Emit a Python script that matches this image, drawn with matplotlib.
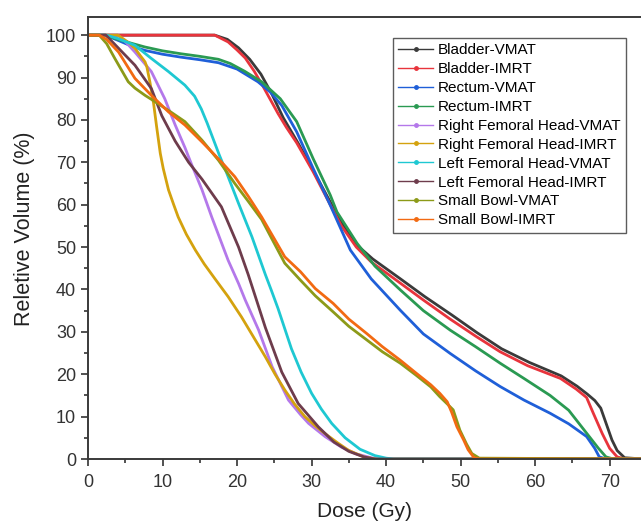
import matplotlib
matplotlib.use("Agg")
import matplotlib.pyplot as plt
from matplotlib.lines import Line2D
from matplotlib.ticker import MultipleLocator

plt.rcParams['font.family'] = ['Liberation Sans', 'DejaVu Sans']

labels = ["Bladder-VMAT", "Bladder-IMRT", "Rectum-VMAT", "Rectum-IMRT",
          "Right Femoral Head-VMAT", "Right Femoral Head-IMRT",
          "Left Femoral Head-VMAT", "Left Femoral Head-IMRT",
          "Small Bowl-VMAT", "Small Bowl-IMRT"]
colors = ["#3a3a3a", "#e8343c", "#1f5fd8", "#2a9a52", "#b478ea",
          "#d4a20e", "#1ec8d2", "#6e3c4c", "#8c9a18", "#f26a12"]

bladder_vmat_d = [0, 17, 18.7, 20.2, 21.7, 23.2, 24.7, 26.2, 28.2, 30.4, 32.7, 34.2, 36.2, 38.2, 42.0, 45.2, 48.8, 52.2, 55.5, 59.2, 63.5, 65.6, 67.0, 68.0, 68.8, 69.6, 70.3, 71.0, 72.0, 74.5]
bladder_vmat_v = [100, 100, 99, 97, 94.3, 90.8, 86, 80.5, 74.5, 67.5, 60, 55.2, 50.3, 47.2, 42.4, 38.3, 34, 29.8, 26, 22.8, 19.6, 17.2, 15.3, 13.8, 12, 8, 4.5, 2, 0.3, 0]

bladder_imrt_d = [0, 17, 18.8, 20.0, 21.1, 22.3, 23.4, 25.5, 26.6, 28.0, 30.2, 32.5, 34.0, 36.0, 38.0, 41.9, 45.0, 48.6, 52.0, 55.3, 59.0, 63.4, 65.5, 66.9, 67.8, 69.0, 70.0, 71.0, 72.0, 74.5]
bladder_imrt_v = [100, 100, 98.4, 96.5, 94.6, 91.5, 88.2, 81.5, 78.3, 74.6, 67.8, 60, 55, 50, 46.5, 41.5, 37.5, 33, 29, 25.3, 22, 19, 16.5, 14.5, 10.8, 6, 2.5, 0.5, 0, 0]

rectum_vmat_d = [0, 2.3, 4, 6, 7.65, 10, 12.5, 15, 17.5, 20, 22.8, 24.5, 26, 28, 30.2, 32.5, 35.2, 38, 41.9, 45, 48.6, 52, 55.3, 58.5, 62, 64.5, 66.9, 68, 68.6, 69.5, 74.5]
rectum_vmat_v = [100, 100, 98.8, 97.3, 96.4, 95.5, 94.8, 94.2, 93.5, 92, 89, 86.5, 83.4, 77.2, 68.6, 59.9, 49.3, 42.5, 35.1, 29.5, 24.9, 20.8, 17.1, 13.9, 10.8, 8.3, 5.3, 2.5, 0.5, 0, 0]

rectum_imrt_d = [0, 2.3, 4, 6, 7.65, 10, 12.5, 15, 17.5, 19.1, 21, 23.3, 25.8, 28, 30.2, 32.5, 33.4, 36.1, 38.5, 41.9, 45, 48.6, 52, 55.3, 58.5, 62, 64.5, 66.9, 68.5, 69.5, 70.5, 74.5]
rectum_imrt_v = [100, 100, 99, 98, 97.2, 96.3, 95.6, 95, 94.3, 93.3, 91.5, 89, 85, 79.6, 70.9, 62.3, 58.3, 50.9, 45.5, 39.9, 35, 30.4, 26.5, 22.6, 19, 15, 11.5, 6.1, 2.5, 0.5, 0, 0]

rfh_vmat_d = [0, 4, 5, 6.3, 7.5, 8.5, 10.3, 11.7, 13, 13.9, 15.3, 16.6, 18.8, 20.2, 21.1, 22.9, 24.7, 26.9, 28.5, 29.6, 31.8, 34, 36, 38, 39, 74.5]
rfh_vmat_v = [100, 100, 98.5, 96, 93.5, 91.4, 85, 78.8, 73.5, 69.5, 63.5, 57.1, 46.9, 41.4, 37.5, 30.4, 21.8, 13.9, 10.5, 8.4, 5.3, 2.8, 1.2, 0.3, 0, 0]

rfh_imrt_d = [0, 4, 5.5, 6.3, 7, 7.65, 7.9, 8.3, 8.8, 9.2, 9.7, 10.1, 10.8, 11.5, 12.1, 13.2, 14.4, 15.6, 17, 18.8, 20.6, 22.2, 23.8, 25.1, 26.4, 27.7, 29.1, 30.5, 31.8, 33.5, 35, 37, 38.5, 74.5]
rfh_imrt_v = [100, 100, 98.2, 96.9, 95.2, 93.7, 92.5, 89, 83.9, 78.5, 72.1, 68.5, 63.5, 60, 57.1, 53, 49.3, 46, 42.6, 38.3, 33.5, 28.8, 24.1, 20, 16.3, 13, 10, 7.8, 6, 3.8, 2, 0.5, 0, 0]

lfh_vmat_d = [0, 2.5, 4, 6.3, 8.5, 10.8, 13, 14.3, 15.2, 16.0, 16.8, 17.6, 18.6, 20.2, 22, 23.8, 24.6, 25.5, 27.3, 28.6, 30, 31.3, 32.7, 34.5, 36.5, 38.5, 40, 41, 74.5]
lfh_vmat_v = [100, 100, 99.2, 97.6, 94.5, 91.4, 88.2, 85.6, 82.6, 79.2, 75.5, 71.8, 67.5, 60.3, 52.4, 43.5, 39.8, 35.5, 26, 20.5, 15.5, 11.8, 8.4, 5, 2.3, 0.8, 0.2, 0, 0]

lfh_imrt_d = [0, 2.4, 4.1, 6.3, 8.5, 9.9, 11.7, 13.5, 15.3, 17.9, 20.2, 21.5, 22.7, 23.8, 26, 28.2, 30.9, 33, 35, 37, 38.5, 74.5]
lfh_imrt_v = [100, 100, 96.9, 92.9, 87.4, 81, 75, 70, 66, 59.5, 50, 43.5, 37, 31, 20.5, 13.1, 7.6, 4, 1.8, 0.5, 0, 0]

sb_vmat_d = [0, 1.5, 2.5, 3.6, 5.4, 6.3, 7.65, 9, 11, 13, 15.3, 17.5, 19.7, 21.5, 23.3, 26.4, 28.5, 30.5, 32.9, 35, 37.4, 39.5, 41.9, 44, 46, 47.2, 48.2, 49, 49.9, 50.8, 51.5, 52.5, 74.5]
sb_vmat_v = [100, 100, 98, 94.5, 89, 87.5, 85.8, 84.3, 82, 79.6, 75.2, 70.5, 65, 60.8, 56.5, 46.2, 42.2, 38.5, 34.7, 31.3, 28.1, 25.3, 22.6, 19.8, 17, 14.7, 13, 11.6, 6.8, 3.5, 1.3, 0.2, 0]

sb_imrt_d = [0, 1.5, 2.5, 4.1, 6.3, 8.5, 10.8, 13, 15.3, 17.9, 19.7, 21.5, 23.3, 26.4, 28.5, 30.5, 32.9, 35, 37.4, 39.5, 41.9, 44, 46, 47.2, 48.2, 48.8, 49.5, 50.4, 51, 51.8, 52.5, 74.5]
sb_imrt_v = [100, 100, 99, 96, 89.8, 85.8, 81.9, 78.8, 74.8, 70.1, 66.6, 62, 57.1, 47.7, 44.2, 40.2, 36.7, 33, 29.6, 26.5, 23.3, 20.3, 17.5, 15.5, 13.5, 11, 7.6, 4.5, 2.2, 0.3, 0, 0]

series = [(bladder_vmat_d, bladder_vmat_v), (bladder_imrt_d, bladder_imrt_v),
          (rectum_vmat_d, rectum_vmat_v), (rectum_imrt_d, rectum_imrt_v),
          (rfh_vmat_d, rfh_vmat_v), (rfh_imrt_d, rfh_imrt_v),
          (lfh_vmat_d, lfh_vmat_v), (lfh_imrt_d, lfh_imrt_v),
          (sb_vmat_d, sb_vmat_v), (sb_imrt_d, sb_imrt_v)]

fig = plt.figure(figsize=(6.41, 5.27), dpi=100)
ax = fig.add_axes([88/641, 68/527, 1 - 88/641, (459 - 16.5)/527])

for (d, v), c in zip(series, colors):
    ax.plot(d, v, color=c, lw=2.0, solid_capstyle='round', solid_joinstyle='round')

ax.set_xlim(0, 74.2)
ax.set_ylim(0, 104.4)
ax.xaxis.set_major_locator(MultipleLocator(10))
ax.xaxis.set_minor_locator(MultipleLocator(5))
ax.yaxis.set_major_locator(MultipleLocator(10))
ax.yaxis.set_minor_locator(MultipleLocator(5))
ax.tick_params(which='major', direction='out', length=5, width=1.2, labelsize=13, colors='#333333')
ax.tick_params(axis='x', which='major', pad=6)
ax.tick_params(which='minor', direction='out', length=3, width=1.2, colors='#333333')
for s in ax.spines.values():
    s.set_color('#3a3a3a')
    s.set_linewidth(1.4)
ax.spines['right'].set_visible(False)

ax.set_xlabel("Dose (Gy)", fontsize=15, color='#222222', labelpad=8)
ax.set_ylabel("Reletive Volume (%)", fontsize=15.5, color='#222222')
ax.yaxis.set_label_coords(-0.095, 0.52)

handles = [Line2D([0], [0], color=c, lw=1.0, marker='o', markersize=2.5) for c in colors]
leg = fig.legend(handles, labels, loc='upper left', bbox_to_anchor=(393/641, 1 - 38/527),
                 fontsize=11, frameon=True, fancybox=False, edgecolor='#333333',
                 handlelength=2.3, handletextpad=0.3, labelspacing=0.32, borderpad=0.35,
                 borderaxespad=0)
leg.get_frame().set_linewidth(1.0)

fig.savefig("out.png", dpi=100)
